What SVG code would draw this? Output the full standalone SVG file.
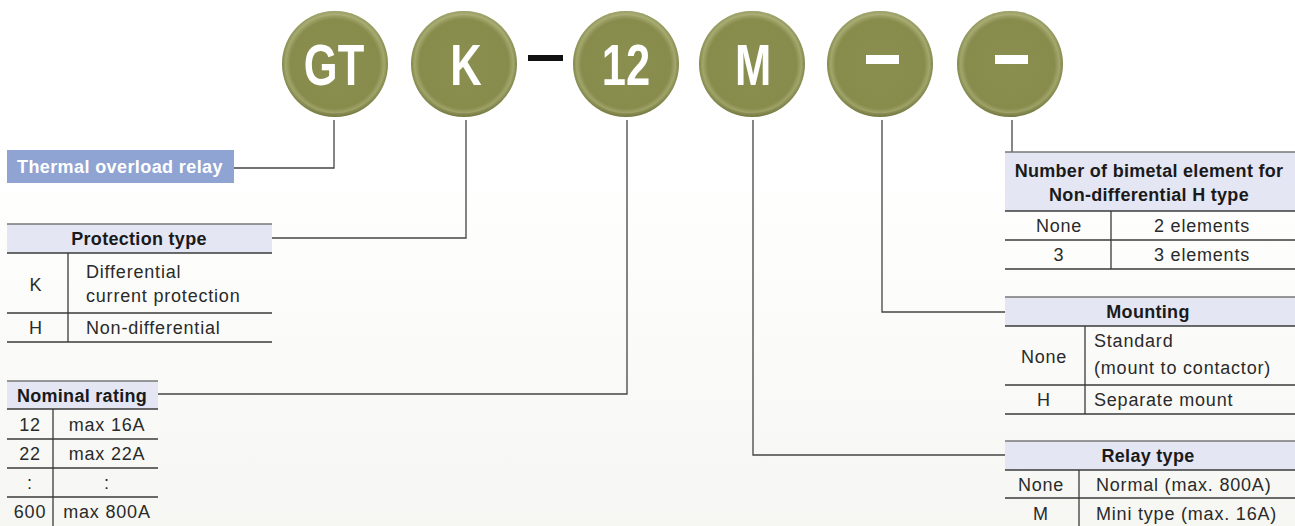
<svg xmlns="http://www.w3.org/2000/svg" width="1295" height="526" viewBox="0 0 1295 526">
  <defs>
    <linearGradient id="bg" x1="0" y1="0" x2="0" y2="1">
      <stop offset="0" stop-color="#ffffff"/>
      <stop offset="0.3" stop-color="#ffffff"/>
      <stop offset="1" stop-color="#f6f7f3"/>
    </linearGradient>
    <radialGradient id="disc" cx="0.5" cy="0.5" r="0.5">
      <stop offset="0" stop-color="#8a8f4f"/>
      <stop offset="0.84" stop-color="#878c4c"/>
      <stop offset="0.93" stop-color="#a2a66b"/>
      <stop offset="1" stop-color="#7f8446"/>
    </radialGradient>
    <linearGradient id="rim" x1="0" y1="0" x2="0" y2="1">
      <stop offset="0" stop-color="#b5b985" stop-opacity="0.5"/>
      <stop offset="0.5" stop-color="#b5b985" stop-opacity="0"/>
      <stop offset="1" stop-color="#5f6330" stop-opacity="0.35"/>
    </linearGradient>
    <style>
      .disc { fill: url(#disc); }
      .rim { fill: none; stroke: url(#rim); stroke-width: 4; }
      .letter { font-family: "Liberation Sans", Arial, sans-serif; font-weight: bold; font-size: 58px; fill: #ffffff; text-anchor: middle; }
      .wdash { fill: #ffffff; }
      .conn { fill: none; stroke: #444444; stroke-width: 1.3; }
      .hdr { fill: #e4e6f4; }
      .tline { stroke: #3a3a3a; stroke-width: 1.3; }
      .topline { stroke: #777777; stroke-width: 1.3; }
      .hd { font-family: "Liberation Sans", Arial, sans-serif; font-weight: bold; font-size: 18px; fill: #1a1a1a; text-anchor: middle; letter-spacing: 0.3px; }
      .tx { font-family: "Liberation Sans", Arial, sans-serif; font-size: 18px; fill: #2a2a2a; letter-spacing: 0.8px; }
      .c { text-anchor: middle; }
      .lbl { font-family: "Liberation Sans", Arial, sans-serif; font-weight: bold; font-size: 18px; fill: #ffffff; letter-spacing: 0.4px; }
    </style>
  </defs>

  <rect x="0" y="0" width="1295" height="526" fill="url(#bg)"/>

  <!-- connectors -->
  <g id="connectors">
    <path class="conn" d="M334 120 V168 H234"/>
    <path class="conn" d="M466 120 V238 H272"/>
    <path class="conn" d="M627 120 V394 H158"/>
    <path class="conn" d="M753 120 V455 H1005"/>
    <path class="conn" d="M882 120 V312 H1005"/>
    <path class="conn" d="M1012 120 V152"/>
  </g>

  <!-- code circles -->
  <g id="node-GT">
    <circle class="disc" cx="335" cy="64" r="53"/>
    <circle class="rim" cx="335" cy="64" r="51"/>
    <text class="letter" transform="translate(334,85) scale(0.75,1)">GT</text>
  </g>
  <g id="node-K">
    <circle class="disc" cx="464" cy="64" r="53"/>
    <circle class="rim" cx="464" cy="64" r="51"/>
    <text class="letter" transform="translate(466,85) scale(0.75,1)">K</text>
  </g>
  <g id="dash-sep">
    <rect x="528" y="55" width="35" height="6" fill="#111111"/>
  </g>
  <g id="node-12">
    <circle class="disc" cx="626" cy="64" r="53"/>
    <circle class="rim" cx="626" cy="64" r="51"/>
    <text class="letter" transform="translate(626,85) scale(0.75,1)">12</text>
  </g>
  <g id="node-M">
    <circle class="disc" cx="752" cy="64" r="53"/>
    <circle class="rim" cx="752" cy="64" r="51"/>
    <text class="letter" transform="translate(753,85) scale(0.75,1)">M</text>
  </g>
  <g id="node-dash1">
    <circle class="disc" cx="880" cy="64" r="53"/>
    <circle class="rim" cx="880" cy="64" r="51"/>
    <rect class="wdash" x="866" y="55" width="33" height="9"/>
  </g>
  <g id="node-dash2">
    <circle class="disc" cx="1010" cy="64" r="53"/>
    <circle class="rim" cx="1010" cy="64" r="51"/>
    <rect class="wdash" x="995" y="55" width="33" height="9"/>
  </g>

  <!-- Thermal overload relay label -->
  <g id="label-thermal">
    <rect x="7" y="150" width="227" height="33" fill="#8fa4d3"/>
    <text class="lbl" x="17" y="173">Thermal overload relay</text>
  </g>

  <!-- Protection type -->
  <g id="table-protection">
    <rect class="hdr" x="7" y="224" width="265" height="29"/>
    <line class="topline" x1="7" y1="224" x2="272" y2="224"/>
    <line class="tline" x1="7" y1="253" x2="272" y2="253"/>
    <line class="tline" x1="7" y1="313" x2="272" y2="313"/>
    <line class="tline" x1="7" y1="342" x2="272" y2="342"/>
    <line class="tline" x1="68" y1="253" x2="68" y2="342"/>
    <text class="hd" x="139" y="245">Protection type</text>
    <text class="tx c" x="36" y="291">K</text>
    <text class="tx" x="86" y="278">Differential</text>
    <text class="tx" x="86" y="302">current protection</text>
    <text class="tx c" x="36" y="334">H</text>
    <text class="tx" x="86" y="334">Non-differential</text>
  </g>

  <!-- Nominal rating -->
  <g id="table-nominal">
    <rect class="hdr" x="7" y="381" width="151" height="28"/>
    <line class="topline" x1="7" y1="381" x2="158" y2="381"/>
    <line class="tline" x1="7" y1="409" x2="158" y2="409"/>
    <line class="tline" x1="7" y1="439" x2="158" y2="439"/>
    <line class="tline" x1="7" y1="468" x2="158" y2="468"/>
    <line class="tline" x1="7" y1="497" x2="158" y2="497"/>
    <line class="tline" x1="53" y1="409" x2="53" y2="526"/>
    <text class="hd" x="82" y="402">Nominal rating</text>
    <text class="tx c" x="30" y="431">12</text>
    <text class="tx c" x="107" y="431">max 16A</text>
    <text class="tx c" x="30" y="460">22</text>
    <text class="tx c" x="107" y="460">max 22A</text>
    <text class="tx c" x="30" y="489">:</text>
    <text class="tx c" x="107" y="489">:</text>
    <text class="tx c" x="30" y="518">600</text>
    <text class="tx c" x="107" y="518">max 800A</text>
  </g>

  <!-- Number of bimetal element -->
  <g id="table-bimetal">
    <rect class="hdr" x="1005" y="152" width="290" height="59"/>
    <line class="topline" x1="1005" y1="152" x2="1295" y2="152"/>
    <line class="tline" x1="1005" y1="211" x2="1295" y2="211"/>
    <line class="tline" x1="1005" y1="240" x2="1295" y2="240"/>
    <line class="tline" x1="1005" y1="269" x2="1295" y2="269"/>
    <line class="tline" x1="1111" y1="211" x2="1111" y2="269"/>
    <text class="hd" x="1149" y="177">Number of bimetal element for</text>
    <text class="hd" x="1149" y="201">Non-differential H type</text>
    <text class="tx c" x="1059" y="232">None</text>
    <text class="tx c" x="1202" y="232">2 elements</text>
    <text class="tx c" x="1059" y="261">3</text>
    <text class="tx c" x="1202" y="261">3 elements</text>
  </g>

  <!-- Mounting -->
  <g id="table-mounting">
    <rect class="hdr" x="1005" y="297" width="290" height="29"/>
    <line class="topline" x1="1005" y1="297" x2="1295" y2="297"/>
    <line class="tline" x1="1005" y1="326" x2="1295" y2="326"/>
    <line class="tline" x1="1005" y1="385" x2="1295" y2="385"/>
    <line class="tline" x1="1005" y1="414" x2="1295" y2="414"/>
    <line class="tline" x1="1085" y1="326" x2="1085" y2="414"/>
    <text class="hd" x="1148" y="318">Mounting</text>
    <text class="tx c" x="1044" y="363">None</text>
    <text class="tx" x="1094" y="347">Standard</text>
    <text class="tx" x="1094" y="374">(mount to contactor)</text>
    <text class="tx c" x="1044" y="406">H</text>
    <text class="tx" x="1094" y="406">Separate mount</text>
  </g>

  <!-- Relay type -->
  <g id="table-relay">
    <rect class="hdr" x="1005" y="441" width="290" height="29"/>
    <line class="topline" x1="1005" y1="441" x2="1295" y2="441"/>
    <line class="tline" x1="1005" y1="470" x2="1295" y2="470"/>
    <line class="tline" x1="1005" y1="498" x2="1295" y2="498"/>
    <line class="tline" x1="1079" y1="470" x2="1079" y2="526"/>
    <text class="hd" x="1148" y="462">Relay type</text>
    <text class="tx c" x="1041" y="491">None</text>
    <text class="tx" x="1096" y="491">Normal (max. 800A)</text>
    <text class="tx c" x="1041" y="520">M</text>
    <text class="tx" x="1096" y="520">Mini type (max. 16A)</text>
  </g>
</svg>
